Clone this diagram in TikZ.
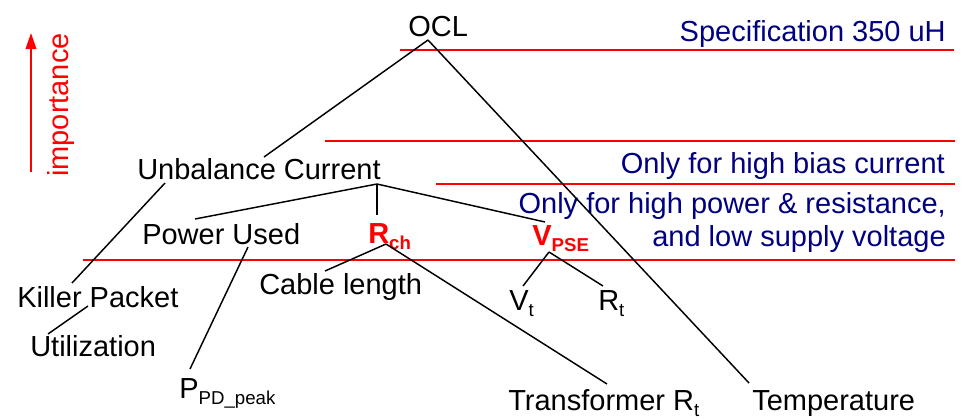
\documentclass[tikz,border=0pt]{standalone}
\usepackage{fontspec}
\setmainfont{Liberation Sans}
\usetikzlibrary{arrows.meta,calc}
\definecolor{navyblue}{RGB}{0,0,128}
\newcommand\mysub[1]{\raisebox{-5pt}{\fontsize{14}{14}\selectfont #1}}
\begin{document}
\begin{tikzpicture}[x=0.75pt,y=-0.75pt,
  lbl/.style={anchor=base west,inner sep=0pt,font=\fontsize{21.75}{26}\selectfont},
  keylbl/.style={lbl,text=red,font=\fontsize{21.75}{26}\selectfont\bfseries},
  note/.style={anchor=base east,inner sep=0pt,align=right,font=\fontsize{21.75}{24.75}\selectfont,text=navyblue},
  conn/.style={line width=1.1pt,black},
  levelline/.style={line width=0.8pt,red}]
\useasboundingbox (0,0) rectangle (962,419);

% importance levels
\draw[levelline] (400,50) -- (954,50);
\draw[levelline] (325,141) -- (955,141);
\draw[levelline] (436,184) -- (955,184);
\draw[levelline] (83,260) -- (955,260);

% importance arrow
\draw[red,line width=1.1pt,-{Triangle[length=12pt,width=8pt]}] (31,172) -- (31,33);
\node[rotate=90,anchor=base west,inner sep=0pt,text=red,font=\fontsize{21.75}{26}\selectfont] (imp) at (68,177) {importance};

% notes
\node[note] (n1) at (946,41) {Specification 350 uH};
\node[note] (n2) at (945,173) {Only for high bias current};
\node[note] (n3) at (946,213) {Only for high power \& resistance,};
\node[note] (n4) at (946,246) {and low supply voltage};

% tree nodes
\node[lbl] (ocl) at (408,36) {OCL};
\node[lbl] (unb) at (137,179) {Unbalance Current};
\node[lbl] (pwr) at (142,244) {Power Used};
\node[keylbl] (rch) at (368,243) {R\mysub{ch}};
\node[keylbl] (vpse) at (532,245) {V\mysub{PSE}};
\node[lbl] (cab) at (259,294) {Cable length};
\node[lbl] (kil) at (17,307) {Killer Packet};
\node[lbl] (uti) at (30,356) {Utilization};
\node[lbl] (ppd) at (179,398) {P\mysub{PD\_peak}};
\node[lbl] (vt) at (509,310) {V\mysub{t}};
\node[lbl] (rt) at (598,310) {R\mysub{t}};
\node[lbl] (trf) at (508,410) {Transformer R\mysub{t}};
\node[lbl] (tmp) at (752,410) {Temperature};

% connectors
\draw[conn] ($(ocl.base west)+(20,4)$) -- ($(unb.base west)+(127,-22)$);
\draw[conn] ($(ocl.base west)+(20,4)$) -- ($(tmp.base west)+(-3,-27)$);
\draw[conn] ($(unb.base west)+(240,5)$) -- ($(pwr.base west)+(53,-25)$);
\draw[conn] ($(unb.base west)+(240,5)$) -- ($(rch.base west)+(9,-28)$);
\draw[conn] ($(unb.base west)+(240,5)$) -- ($(vpse.base west)+(13,-23)$);
\draw[conn] ($(unb.base west)+(28,4)$) -- ($(kil.base west)+(55,-24)$);
\draw[conn] ($(pwr.base west)+(106,3)$) -- ($(ppd.base west)+(11,-29)$);
\draw[conn] ($(rch.base west)+(18,1)$) -- ($(cab.base west)+(66,-23)$);
\draw[conn] ($(rch.base west)+(18,1)$) -- ($(trf.base west)+(99,-26)$);
\draw[conn] ($(kil.base west)+(71,-1)$) -- ($(uti.base west)+(18,-22)$);
\draw[conn] ($(vpse.base west)+(17,7)$) -- ($(vt.base west)+(14,-24)$);
\draw[conn] ($(vpse.base west)+(17,7)$) -- ($(rt.base west)+(5,-24)$);
\end{tikzpicture}
\end{document}
